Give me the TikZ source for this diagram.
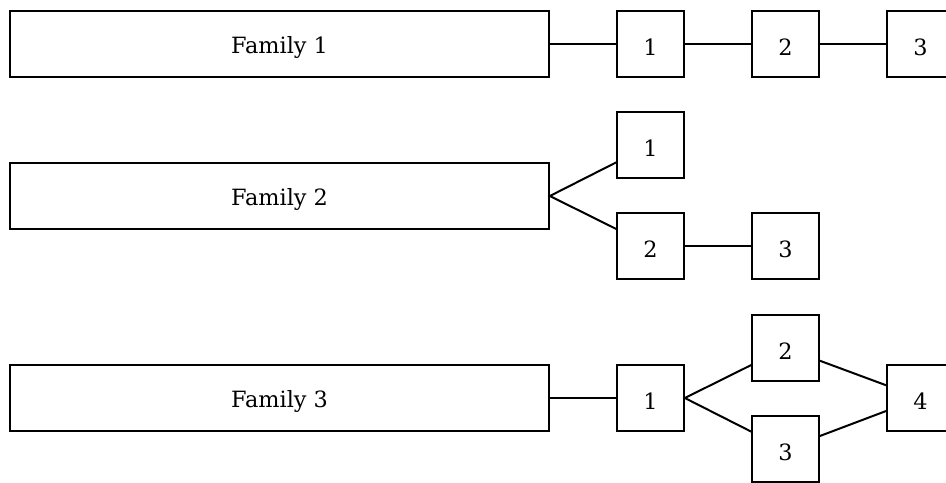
\documentclass[tikz,border=0pt]{standalone}
\usepackage{fontspec}
\setmainfont{DejaVu Serif}
\newcommand{\lowtxt}[1]{\raisebox{-2.3pt}[\height][\depth]{#1}}
\begin{document}
\begin{tikzpicture}[x=0.75pt,y=-0.75pt,
  fam/.style={draw,line width=1.5pt,minimum width=404pt,minimum height=50pt,inner sep=0pt,font=\fontsize{16.8}{19}\selectfont},
  sq/.style={draw,line width=1.5pt,minimum width=50pt,minimum height=50pt,inner sep=0pt,font=\fontsize{16.8}{19}\selectfont},
  con/.style={line width=1.5pt}]
\useasboundingbox (0,0) rectangle (946,482);
\clip (0,0) rectangle (946,482);
% Family 1
\node[fam] (f1) at (279.5,44) {\lowtxt{Family 1}};
\node[sq] (a1) at (650.5,44) {\lowtxt{1}};
\node[sq] (a2) at (785.5,44) {\lowtxt{2}};
\node[sq] (a3) at (920.5,44) {\lowtxt{3}};
\draw[con] (f1.east) -- (a1.west);
\draw[con] (a1.east) -- (a2.west);
\draw[con] (a2.east) -- (a3.west);
% Family 2
\node[fam] (f2) at (279.5,196) {\lowtxt{Family 2}};
\node[sq] (b1) at (650.5,145) {\lowtxt{1}};
\node[sq] (b2) at (650.5,246) {\lowtxt{2}};
\node[sq] (b3) at (785.5,246) {\lowtxt{3}};
\draw[con] (b1) -- (f2.east) -- (b2);
\draw[con] (b2.east) -- (b3.west);
% Family 3
\node[fam] (f3) at (279.5,398) {\lowtxt{Family 3}};
\node[sq] (c1) at (650.5,398) {\lowtxt{1}};
\node[sq] (c2) at (785.5,348) {\lowtxt{2}};
\node[sq] (c3) at (785.5,449) {\lowtxt{3}};
\node[sq] (c4) at (920.5,398) {\lowtxt{4}};
\draw[con] (f3.east) -- (c1.west);
\draw[con] (c2) -- (c1.east) -- (c3);
\draw[con] (c2) -- (c4);
\draw[con] (c3) -- (c4);
\end{tikzpicture}
\end{document}
